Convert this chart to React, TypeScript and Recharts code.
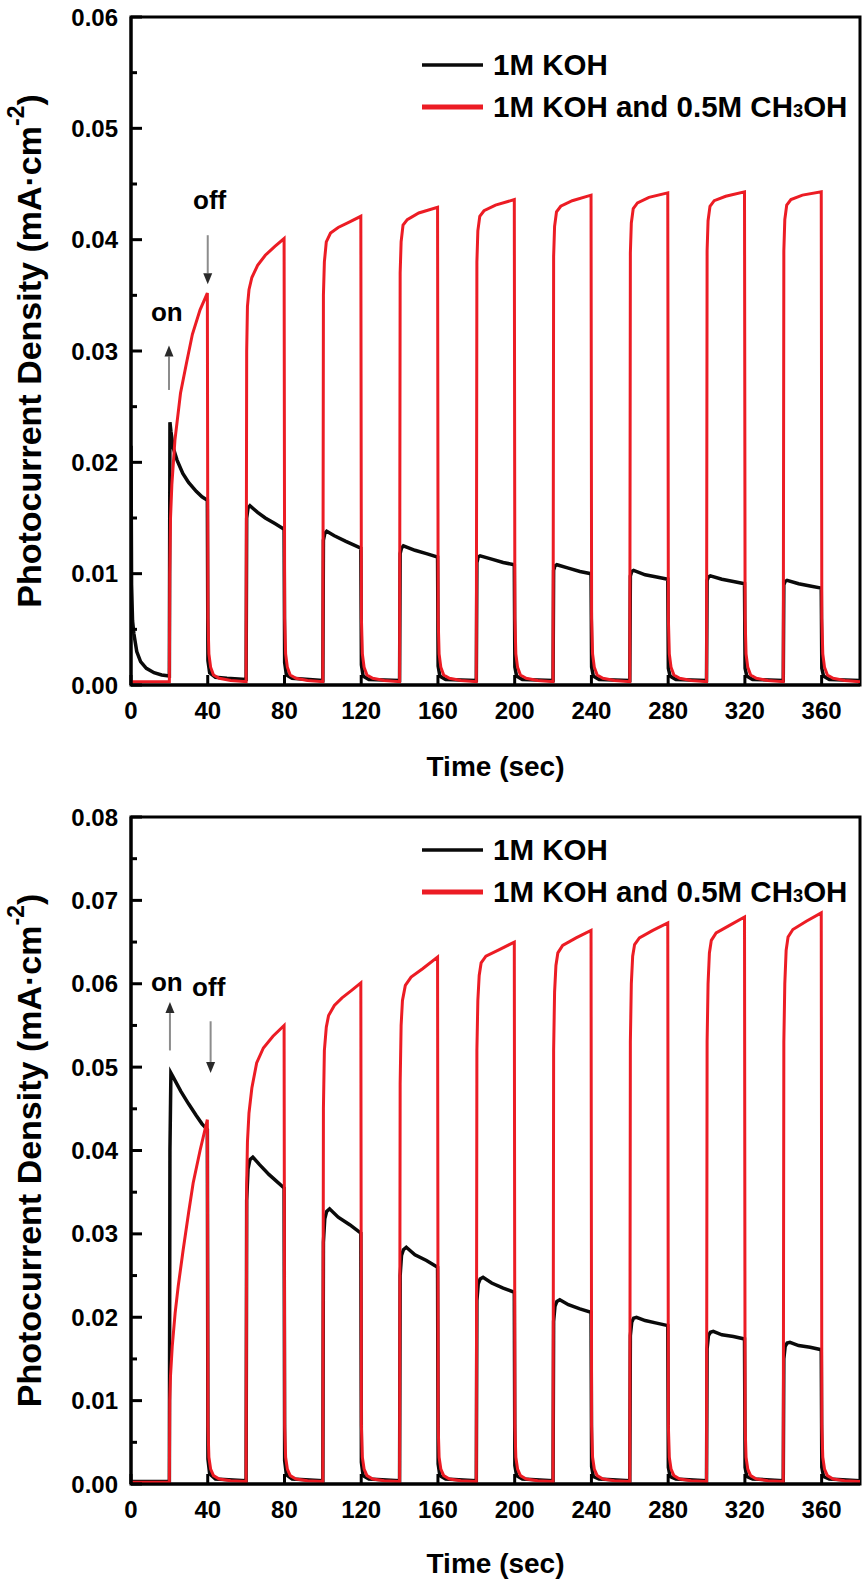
import React from "react";
import {
  Legend,
  Line,
  LineChart,
  ReferenceArea,
  ReferenceDot,
  ReferenceLine,
  XAxis,
  YAxis,
} from "recharts";

type Pt = [number, number];

// time axis (sec) and tick values
const timeTicks = [0, 40, 80, 120, 160, 200, 240, 280, 320, 360];
const topDensityTicks = [
  0, 0.005, 0.01, 0.015, 0.02, 0.025, 0.03, 0.035, 0.04, 0.045, 0.05, 0.055, 0.06,
];
const bottomDensityTicks = [
  0, 0.005, 0.01, 0.015, 0.02, 0.025, 0.03, 0.035, 0.04, 0.045, 0.05, 0.055, 0.06,
  0.065, 0.07, 0.075, 0.08,
];

const SERIES_KOH = "1M KOH";
const SERIES_MEOH = "1M KOH and 0.5M CH3OH";

// upper panel, 1M KOH  [time, mA/cm2]
const kohTop: Pt[] = [
  [0, 0.0215], [0.3, 0.009], [0.8, 0.0058], [1.5, 0.0046], [3, 0.003], [5, 0.0021],
  [8, 0.0015], [12, 0.0011], [16, 0.0009], [20, 0.0008],
  [20.3, 0.0236], [20.8, 0.0228], [22, 0.0213], [24, 0.0202], [27, 0.019], [30, 0.0182],
  [34, 0.0174], [37, 0.0169], [39.8, 0.0166],
  [40.1, 0.0022], [41, 0.0011], [44, 0.0007], [50, 0.0006], [60, 0.0005],
  [60.3, 0.015], [61, 0.0159], [62, 0.0161], [66, 0.0155], [70, 0.015], [75, 0.0145], [79.8, 0.014],
  [80.1, 0.002], [81, 0.0009], [84, 0.0006], [100, 0.0004],
  [100.3, 0.013], [101, 0.0136], [102, 0.0138], [106, 0.0134], [112, 0.0129], [119.8, 0.0123],
  [120.1, 0.0018], [121, 0.0008], [124, 0.0005], [140, 0.0004],
  [140.3, 0.0118], [141, 0.0123], [142, 0.0125], [148, 0.0121], [154, 0.0118], [159.8, 0.0115],
  [160.1, 0.0017], [161, 0.0008], [164, 0.0005], [180, 0.0004],
  [180.3, 0.011], [181, 0.0115], [182, 0.0116], [188, 0.0113], [194, 0.011], [199.8, 0.0108],
  [200.1, 0.0016], [201, 0.0008], [204, 0.0005], [220, 0.0004],
  [220.3, 0.0103], [221, 0.0107], [222, 0.0108], [228, 0.0105], [234, 0.0102], [239.8, 0.01],
  [240.1, 0.0016], [241, 0.0008], [244, 0.0005], [260, 0.0004],
  [260.3, 0.0098], [261, 0.0102], [262, 0.0103], [268, 0.0099], [274, 0.0097], [279.8, 0.0095],
  [280.1, 0.0015], [281, 0.0008], [284, 0.0005], [300, 0.0004],
  [300.3, 0.0094], [301, 0.0097], [302, 0.0098], [308, 0.0095], [314, 0.0093], [319.8, 0.0091],
  [320.1, 0.0015], [321, 0.0008], [324, 0.0005], [340, 0.0004],
  [340.3, 0.009], [341, 0.0093], [342, 0.0094], [348, 0.0091], [354, 0.0089], [359.8, 0.0087],
  [360.1, 0.0015], [361, 0.0008], [364, 0.0005], [380, 0.0004],
];

// upper panel, 1M KOH + 0.5M CH3OH
const meohTop: Pt[] = [
  [0, 0.0003], [20, 0.0003],
  [20.2, 0.01], [20.6, 0.015], [21.3, 0.018], [22.9, 0.022], [25.8, 0.0262], [28.9, 0.0289],
  [32, 0.0315], [36, 0.0337], [39.8, 0.0352],
  [40.1, 0.006], [40.6, 0.0028], [41.5, 0.0016], [43, 0.0009], [46, 0.0006], [52, 0.0004], [60, 0.0003],
  [60.3, 0.03], [60.7, 0.034], [61.5, 0.0355], [63, 0.0366], [66, 0.0377], [70, 0.0386], [75, 0.0394], [79.8, 0.0401],
  [80.1, 0.006], [80.6, 0.0028], [81.5, 0.0016], [83, 0.0009], [86, 0.0006], [92, 0.0004], [100, 0.0003],
  [100.3, 0.035], [100.8, 0.038], [101.8, 0.0398], [104, 0.0406], [108, 0.0411], [114, 0.0416], [119.8, 0.0421],
  [120.1, 0.006], [120.6, 0.0028], [121.5, 0.0016], [123, 0.0009], [126, 0.0006], [132, 0.0004], [140, 0.0003],
  [140.3, 0.037], [140.8, 0.0398], [141.8, 0.0413], [144, 0.0418], [150, 0.0424], [159.8, 0.0429],
  [160.1, 0.006], [160.6, 0.0028], [161.5, 0.0016], [163, 0.0009], [166, 0.0006], [172, 0.0004], [180, 0.0003],
  [180.3, 0.038], [180.8, 0.0408], [181.8, 0.0421], [184, 0.0426], [190, 0.0431], [199.8, 0.0436],
  [200.1, 0.006], [200.6, 0.0028], [201.5, 0.0016], [203, 0.0009], [206, 0.0006], [212, 0.0004], [220, 0.0003],
  [220.3, 0.0385], [220.8, 0.0412], [221.8, 0.0425], [224, 0.043], [230, 0.0435], [239.8, 0.044],
  [240.1, 0.006], [240.6, 0.0028], [241.5, 0.0016], [243, 0.0009], [246, 0.0006], [252, 0.0004], [260, 0.0003],
  [260.3, 0.0388], [260.8, 0.0415], [261.8, 0.0428], [264, 0.0433], [270, 0.0438], [279.8, 0.0442],
  [280.1, 0.006], [280.6, 0.0028], [281.5, 0.0016], [283, 0.0009], [286, 0.0006], [292, 0.0004], [300, 0.0003],
  [300.3, 0.039], [300.8, 0.0417], [301.8, 0.043], [304, 0.0435], [310, 0.0439], [319.8, 0.0443],
  [320.1, 0.006], [320.6, 0.0028], [321.5, 0.0016], [323, 0.0009], [326, 0.0006], [332, 0.0004], [340, 0.0003],
  [340.3, 0.039], [340.8, 0.0418], [341.8, 0.0431], [344, 0.0436], [350, 0.044], [359.8, 0.0443],
  [360.1, 0.006], [360.6, 0.0028], [361.5, 0.0016], [363, 0.0009], [366, 0.0006], [372, 0.0004], [380, 0.0003],
];

// lower panel, 1M KOH
const kohBottom: Pt[] = [
  [0, 0.0003], [20, 0.0003],
  [20.3, 0.04], [20.8, 0.0493], [22, 0.0488], [26, 0.0471], [30, 0.0456], [34, 0.0442], [37, 0.0432], [39.8, 0.0425],
  [40.1, 0.003], [41, 0.0012], [44, 0.0006], [60, 0.0004],
  [60.3, 0.034], [61, 0.0378], [62, 0.0389], [63.5, 0.0392], [67, 0.0383], [72, 0.0371], [79.8, 0.0355],
  [80.1, 0.0028], [81, 0.0011], [84, 0.0006], [100, 0.0004],
  [100.3, 0.029], [101, 0.0318], [102, 0.0327], [103.5, 0.033], [108, 0.032], [114, 0.0311], [119.8, 0.0301],
  [120.1, 0.0026], [121, 0.001], [124, 0.0006], [140, 0.0004],
  [140.3, 0.025], [141, 0.0274], [142, 0.0281], [143.5, 0.0284], [148, 0.0275], [154, 0.0268], [159.8, 0.026],
  [160.1, 0.0024], [161, 0.001], [164, 0.0006], [180, 0.0004],
  [180.3, 0.022], [181, 0.024], [182, 0.0246], [183.5, 0.0248], [188, 0.0241], [194, 0.0235], [199.8, 0.023],
  [200.1, 0.0022], [201, 0.001], [204, 0.0006], [220, 0.0004],
  [220.3, 0.0195], [221, 0.0213], [222, 0.0219], [223.5, 0.0221], [228, 0.0215], [234, 0.021], [239.8, 0.0206],
  [240.1, 0.0021], [241, 0.0009], [244, 0.0006], [260, 0.0004],
  [260.3, 0.0178], [261, 0.0194], [262, 0.0199], [263.5, 0.02], [268, 0.0196], [274, 0.0193], [279.8, 0.019],
  [280.1, 0.002], [281, 0.0009], [284, 0.0006], [300, 0.0004],
  [300.3, 0.0162], [301, 0.0178], [302, 0.0182], [303.5, 0.0183], [308, 0.0179], [314, 0.0177], [319.8, 0.0174],
  [320.1, 0.002], [321, 0.0009], [324, 0.0006], [340, 0.0004],
  [340.3, 0.015], [341, 0.0165], [342, 0.0169], [343.5, 0.017], [348, 0.0166], [354, 0.0164], [359.8, 0.0161],
  [360.1, 0.002], [361, 0.0009], [364, 0.0006], [380, 0.0004],
];

// lower panel, 1M KOH + 0.5M CH3OH
const meohBottom: Pt[] = [
  [0, 0.0002], [20, 0.0002],
  [20.2, 0.01], [20.6, 0.013], [21.5, 0.0165], [23, 0.0205], [24.6, 0.0237], [27.2, 0.0281], [30, 0.0325],
  [32.4, 0.0361], [36, 0.04], [39.8, 0.0437],
  [40.1, 0.007], [40.6, 0.0032], [41.5, 0.0018], [43, 0.001], [46, 0.0006], [52, 0.0004], [60, 0.0003],
  [60.3, 0.036], [60.7, 0.041], [61.5, 0.0445], [63, 0.0475], [65.5, 0.0505], [69, 0.0523], [74, 0.0537], [79.8, 0.055],
  [80.1, 0.007], [80.6, 0.0032], [81.5, 0.0018], [83, 0.001], [86, 0.0006], [92, 0.0004], [100, 0.0003],
  [100.3, 0.045], [100.8, 0.052], [101.8, 0.0548], [103, 0.0562], [106, 0.0574], [110, 0.0583], [115, 0.0592], [119.8, 0.0601],
  [120.1, 0.007], [120.6, 0.0032], [121.5, 0.0018], [123, 0.001], [126, 0.0006], [132, 0.0004], [140, 0.0003],
  [140.3, 0.048], [140.8, 0.055], [141.5, 0.058], [143, 0.0598], [146, 0.0608], [152, 0.0618], [159.8, 0.0632],
  [160.1, 0.007], [160.6, 0.0032], [161.5, 0.0018], [163, 0.001], [166, 0.0006], [172, 0.0004], [180, 0.0003],
  [180.3, 0.052], [180.8, 0.058], [181.5, 0.061], [182.5, 0.0625], [185, 0.0633], [192, 0.0641], [199.8, 0.065],
  [200.1, 0.007], [200.6, 0.0032], [201.5, 0.0018], [203, 0.001], [206, 0.0006], [212, 0.0004], [220, 0.0003],
  [220.3, 0.052], [220.8, 0.059], [221.5, 0.0622], [222.5, 0.0637], [225, 0.0646], [232, 0.0655], [239.8, 0.0664],
  [240.1, 0.007], [240.6, 0.0032], [241.5, 0.0018], [243, 0.001], [246, 0.0006], [252, 0.0004], [260, 0.0003],
  [260.3, 0.053], [260.8, 0.06], [261.5, 0.0633], [262.5, 0.0647], [265, 0.0655], [272, 0.0664], [279.8, 0.0673],
  [280.1, 0.007], [280.6, 0.0032], [281.5, 0.0018], [283, 0.001], [286, 0.0006], [292, 0.0004], [300, 0.0003],
  [300.3, 0.053], [300.8, 0.06], [301.5, 0.0637], [302.5, 0.0652], [305, 0.0661], [312, 0.067], [319.8, 0.068],
  [320.1, 0.007], [320.6, 0.0032], [321.5, 0.0018], [323, 0.001], [326, 0.0006], [332, 0.0004], [340, 0.0003],
  [340.3, 0.053], [340.8, 0.06], [341.5, 0.064], [342.5, 0.0656], [345, 0.0665], [352, 0.0675], [359.8, 0.0685],
  [360.1, 0.007], [360.6, 0.0032], [361.5, 0.0018], [363, 0.001], [366, 0.0006], [372, 0.0004], [380, 0.0003],
];

// on/off arrows: arrow at t from tail to tip, word at (textT, textY)
type Note = { t: number; from: number; to: number; text: string; textT: number; textY: number };
const notesTop: Note[] = [
  { t: 19.8, from: 0.0265, to: 0.0305, text: "on", textT: 18.7, textY: 0.0335 },
  { t: 40, from: 0.0404, to: 0.036, text: "off", textT: 41, textY: 0.0436 },
];
const notesBottom: Note[] = [
  { t: 20.3, from: 0.052, to: 0.0578, text: "on", textT: 18.7, textY: 0.0602 },
  { t: 41.5, from: 0.0555, to: 0.0493, text: "off", textT: 40.5, textY: 0.0596 },
];

const FONT = "'Liberation Sans', Arial, Helvetica, sans-serif";
const BLACK = "#0a0a0a";
const RED = "#ec1c24";
const Y_GAP = 13;
const X_GAP = 17;

const toRows = (pts: Pt[]) => pts.map(([t, v]) => ({ t, v }));

const isMajor = (v: number) => Math.abs(v * 100 - Math.round(v * 100)) < 1e-6;

const YTick = (props: any) => {
  const { x, y, payload } = props;
  const ax = x + Y_GAP;
  const major = isMajor(payload.value);
  return (
    <g>
      <line x1={ax} x2={ax + (major ? 11 : 6)} y1={y} y2={y} stroke="#000" strokeWidth={3} />
      {major && (
        <text x={x} y={y} textAnchor="end" dominantBaseline="central" fontSize={24} fontWeight="bold" fill="#000">
          {payload.value.toFixed(2)}
        </text>
      )}
    </g>
  );
};

const XTick = (props: any) => {
  const { x, y, payload } = props;
  const ay = y - X_GAP;
  return (
    <g>
      <line x1={x} x2={x} y1={ay} y2={ay - 10} stroke="#000" strokeWidth={3} />
      <text x={x} y={y} dy="0.72em" textAnchor="middle" fontSize={24} fontWeight="bold" fill="#000">
        {payload.value}
      </text>
    </g>
  );
};

const YTitle = (props: any) => {
  const vb = props.viewBox || {};
  const cy = (vb.y ?? 0) + (vb.height ?? 0) / 2;
  const cx = 29;
  return (
    <text
      x={cx}
      y={cy}
      transform={`rotate(-90, ${cx}, ${cy})`}
      textAnchor="middle"
      dominantBaseline="central"
      fontSize={34}
      fontWeight="bold"
      fill="#000"
    >
      Photocurrent Density (mA·cm
      <tspan dy={-13} fontSize={23}>-2</tspan>
      <tspan dy={13}>)</tspan>
    </text>
  );
};

const Arrow = (props: any) => {
  const { x1, y1, x2, y2 } = props;
  if (x1 === undefined || y1 === undefined) return null;
  const dir = y2 > y1 ? 1 : -1;
  const head = 11;
  return (
    <g>
      <line x1={x1} y1={y1} x2={x2} y2={y2 - dir * head} stroke="#8c8c8c" strokeWidth={2} />
      <polygon
        points={`${x2},${y2} ${x2 - 4.5},${y2 - dir * head} ${x2 + 4.5},${y2 - dir * head}`}
        fill="#2a2a2a"
      />
    </g>
  );
};

const seriesName = (name: string) => {
  const i = name.indexOf("CH3OH");
  if (i < 0) return name;
  return (
    <>
      {name.slice(0, i)}CH<span style={{ fontSize: "0.62em" }}>3</span>OH
    </>
  );
};

const LegendBox = (props: any) => {
  const items = props.payload || [];
  return (
    <div style={{ fontFamily: FONT, fontSize: 29.5, fontWeight: "bold", color: "#000" }}>
      {items.map((e: any) => (
        <div key={e.value} style={{ display: "flex", alignItems: "center", height: 42 }}>
          <svg width={61} height={8} style={{ marginRight: 10 }}>
            <line x1={0} x2={61} y1={4} y2={4} stroke={e.color} strokeWidth={e.color === RED ? 5 : 3.5} />
          </svg>
          <span style={{ whiteSpace: "nowrap" }}>{seriesName(e.value)}</span>
        </div>
      ))}
    </div>
  );
};

type PanelProps = {
  height: number;
  top: number;
  bottom: number;
  yMax: number;
  yTicks: number[];
  koh: Pt[];
  meoh: Pt[];
  notes: Note[];
  legendTop: number;
  titleOffset: number;
};

const Panel = ({ height, top, bottom, yMax, yTicks, koh, meoh, notes, legendTop, titleOffset }: PanelProps) => (
  <LineChart width={867} height={height} margin={{ top, right: 7, bottom, left: 31 }}>
    <XAxis
      type="number"
      dataKey="t"
      domain={[0, 380]}
      ticks={timeTicks}
      interval={0}
      height={40}
      tickSize={0}
      tickMargin={X_GAP}
      tickLine={false}
      tick={<XTick />}
      axisLine={{ stroke: "#000", strokeWidth: 3 }}
      allowDataOverflow
      label={{
        value: "Time (sec)",
        position: "bottom",
        offset: titleOffset,
        fill: "#000",
        fontSize: 28,
        fontWeight: "bold",
      }}
    />
    <YAxis
      type="number"
      domain={[0, yMax]}
      ticks={yTicks}
      interval={0}
      width={100}
      tickSize={0}
      tickMargin={Y_GAP}
      tickLine={false}
      tick={<YTick />}
      axisLine={{ stroke: "#000", strokeWidth: 3 }}
      allowDataOverflow
      label={(p: any) => <YTitle {...p} />}
    />
    <ReferenceArea x1={0} x2={380} y1={0} y2={yMax} fill="none" stroke="#000" strokeWidth={3} ifOverflow="visible" />
    <Legend
      layout="vertical"
      align="center"
      verticalAlign="middle"
      wrapperStyle={{ top: legendTop, left: 422, width: 440, height: 84 }}
      content={<LegendBox />}
    />
    <Line
      name={SERIES_KOH}
      data={toRows(koh)}
      dataKey="v"
      type="linear"
      stroke={BLACK}
      strokeWidth={3.5}
      dot={false}
      isAnimationActive={false}
    />
    <Line
      name={SERIES_MEOH}
      data={toRows(meoh)}
      dataKey="v"
      type="linear"
      stroke={RED}
      strokeWidth={3}
      dot={false}
      isAnimationActive={false}
    />
    {notes.map((n) => (
      <ReferenceLine
        key={`arrow-${n.text}`}
        segment={[
          { x: n.t, y: n.from },
          { x: n.t, y: n.to },
        ]}
        shape={(p: any) => <Arrow {...p} />}
      />
    ))}
    {notes.map((n) => (
      <ReferenceDot
        key={`word-${n.text}`}
        x={n.textT}
        y={n.textY}
        shape={(p: any) => (
          <text x={p.cx} y={p.cy} textAnchor="middle" dominantBaseline="central" fontSize={26} fontWeight="bold" fill="#000">
            {n.text}
          </text>
        )}
      />
    ))}
  </LineChart>
);

export default function App() {
  return (
    <div style={{ position: "absolute", top: 0, left: 0, width: 867, height: 1588, background: "#fff", fontFamily: FONT }}>
      <Panel
        height={790}
        top={17}
        bottom={65}
        yMax={0.06}
        yTicks={topDensityTicks}
        koh={kohTop}
        meoh={meohTop}
        notes={notesTop}
        legendTop={44}
        titleOffset={31}
      />
      <Panel
        height={798}
        top={27}
        bottom={64}
        yMax={0.08}
        yTicks={bottomDensityTicks}
        koh={kohBottom}
        meoh={meohBottom}
        notes={notesBottom}
        legendTop={39}
        titleOffset={29}
      />
    </div>
  );
}
